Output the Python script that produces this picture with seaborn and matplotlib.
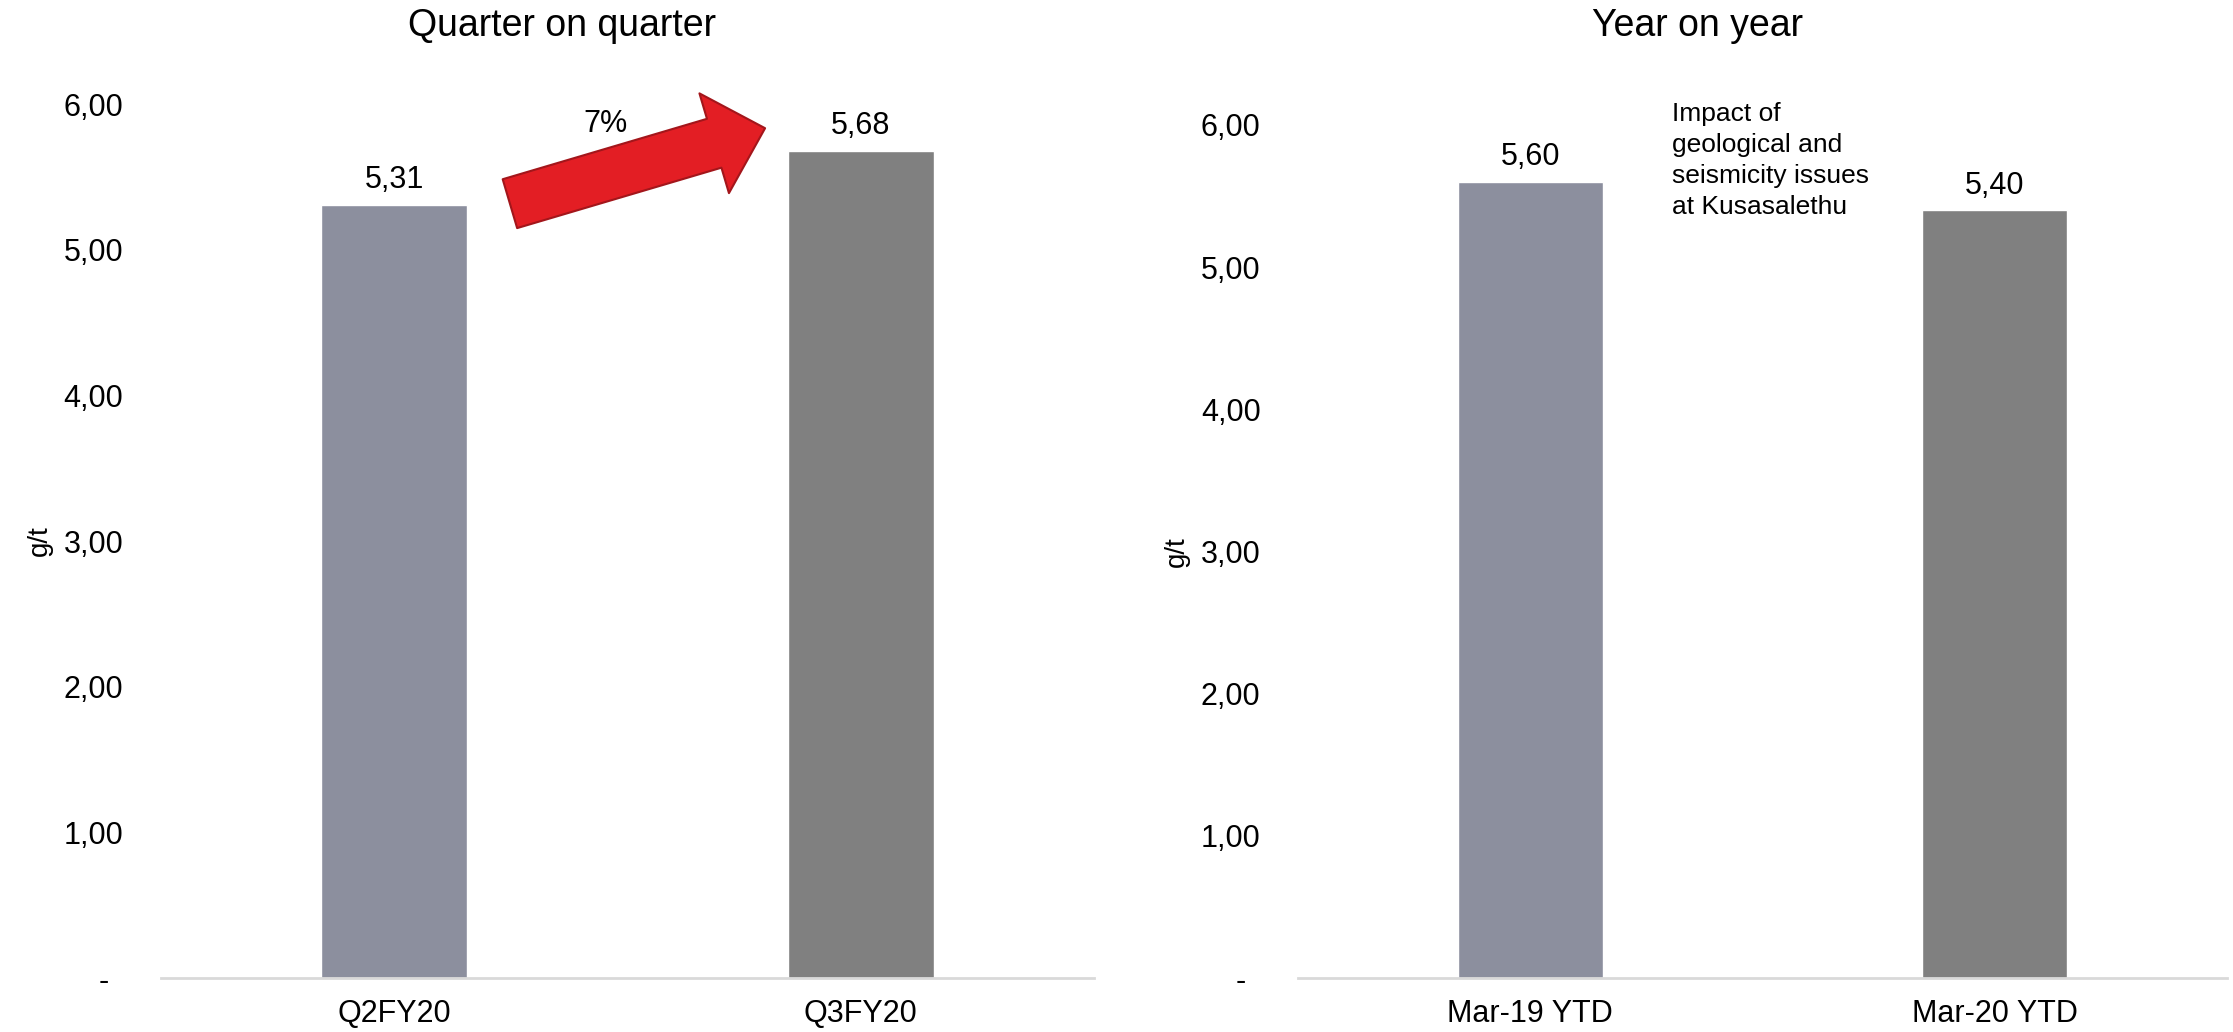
import matplotlib
matplotlib.use("Agg")
import matplotlib.pyplot as plt
import matplotlib.transforms as mtrans
import seaborn as sns

# data
qoq_labels = ["Q2FY20", "Q3FY20"]
qoq_values = [5.31, 5.68]
yoy_labels = ["Mar-19 YTD", "Mar-20 YTD"]
yoy_values = [5.60, 5.40]
y_ticks = [0, 1, 2, 3, 4, 5, 6]
qoq_change = "7%"
yoy_note = "Impact of\ngeological and\nseismicity issues\nat Kusasalethu"

bar_colors = ["#8c8f9e", "#808080"]

sns.set_theme(style="white")
plt.rcParams['font.family'] = ['Liberation Sans', 'DejaVu Sans']
plt.rcParams['text.color'] = 'black'
plt.rcParams['axes.labelcolor'] = 'black'


def fmt(v):
    return "-" if v == 0 else f"{v:.2f}".replace(".", ",")


fig = plt.figure(figsize=(22.33, 10.32), dpi=100)
ax1 = fig.add_axes([0.0721, 0.0523, 0.4178, 0.8469])
ax2 = fig.add_axes([0.5813, 0.0523, 0.4160, 0.8266])

for ax, labels, values, title, pad in [
    (ax1, qoq_labels, qoq_values, "Quarter on quarter", 49),
    (ax2, yoy_labels, yoy_values, "Year on year", 64),
]:
    sns.barplot(x=labels, y=values, hue=labels, palette=bar_colors,
                saturation=1, width=0.313, legend=False, ax=ax)
    ax.set_ylim(0, 6)
    ax.set_xlim(-0.5, 1.5)
    ax.set_yticks(y_ticks)
    ax.set_yticklabels([fmt(t) for t in y_ticks])
    ax.tick_params(axis="y", length=0, pad=27, labelsize=22, colors="black")
    ax.tick_params(axis="x", length=0, pad=15, labelsize=22, colors="black")
    # shift the "-" zero label left like the accounting format
    zero_lbl = ax.get_yticklabels()[0]
    zero_lbl.set_transform(zero_lbl.get_transform() +
                           mtrans.ScaledTranslation(-0.15, 0, fig.dpi_scale_trans))
    ax.set_ylabel("g/t", fontsize=20, labelpad=8, color="black")
    ax.set_title(title, fontsize=27, pad=pad, x=0.43, color="black")
    for s in ["top", "right", "left"]:
        ax.spines[s].set_visible(False)
    ax.spines["bottom"].set_color("#d9d9d9")
    ax.spines["bottom"].set_linewidth(2)
    for c in ax.containers:
        ax.bar_label(c, labels=[fmt(v) for v in c.datavalues],
                     padding=7, fontsize=22, color="black")

# red growth arrow between the quarters
ax1.annotate("", xy=(0.795, qoq_values[1] + 0.154), xytext=(0.248, qoq_values[0] + 0.006),
             arrowprops=dict(arrowstyle="simple,head_length=0.382,head_width=0.749,tail_width=0.367",
                             mutation_scale=100, fc="#e31e24", ec="#a3161b", lw=1.5,
                             shrinkA=0, shrinkB=0))
ax1.text(0.452, 5.81, qoq_change, fontsize=22, ha="center", va="baseline", color="black")

ax2.text(0.305, 6.16, yoy_note, fontsize=19, ha="left", va="top", linespacing=1.37, color="black")

fig.savefig("out.png", dpi=100)
